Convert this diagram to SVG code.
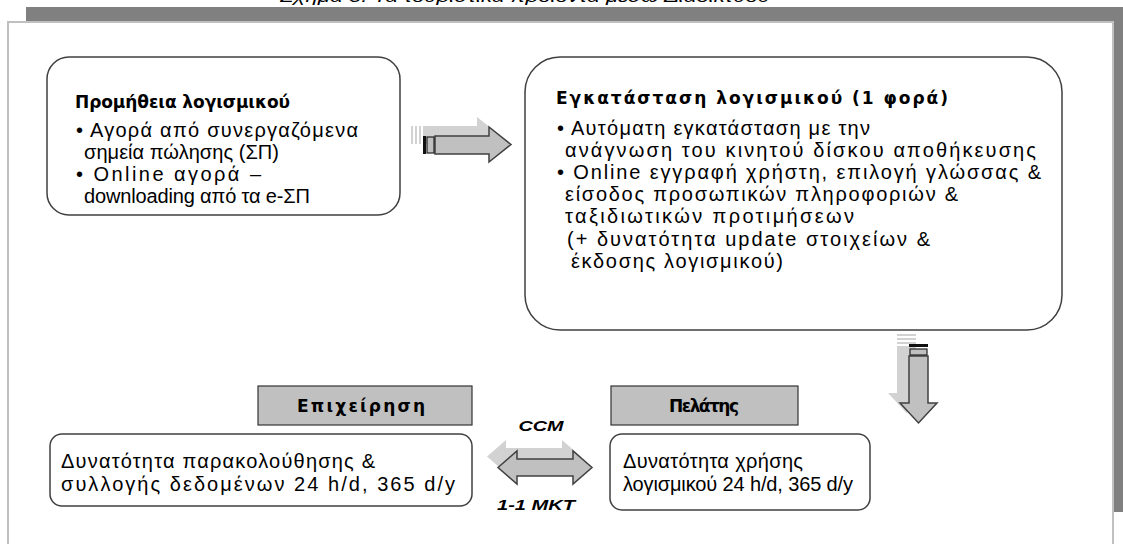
<svg xmlns="http://www.w3.org/2000/svg" width="1123" height="544" viewBox="0 0 1123 544">
<style>
.t{font-family:"Liberation Sans",Arial,sans-serif;font-size:20px;fill:#000}
.h{font-family:"DejaVu Sans",Verdana,sans-serif;font-size:17px;font-weight:bold;fill:#000}
.bi{font-family:"Liberation Sans",Arial,sans-serif;font-size:15px;font-weight:bold;font-style:italic;fill:#000}
.box{fill:#fff;stroke:#404040;stroke-width:1.5}
.hdr{fill:#c0c0c0;stroke:#333;stroke-width:1.2}
.arr{fill:#c0c0c0;stroke:#404040;stroke-width:1.5;stroke-linejoin:miter}
.sh{fill:#d2d2d2}
</style>
<rect width="1123" height="544" fill="#fff"/>
<text x="525" y="2" text-anchor="middle" font-family="Liberation Sans,Arial,sans-serif" font-size="17" font-style="italic" textLength="490" lengthAdjust="spacingAndGlyphs">Σχήμα 3: Τα τουριστικά προϊόντα μέσω Διαδικτύου</text>
<rect x="26" y="7" width="1097" height="15" fill="#808080"/>
<rect x="1113" y="7" width="10" height="505" fill="#808080"/>
<rect x="8" y="22" width="1105" height="530" fill="#fff" stroke="#c0c0c0" stroke-width="2"/>

<g id="connectors">
  <g id="arrow-right">
    <g transform="translate(-12,-10)">
      <polygon class="sh" points="435,136 489,136 489,127 511,144.5 489,162 489,154 435,154"/>
      <rect class="sh" x="423" y="136" width="2" height="18"/>
      <rect class="sh" x="427" y="136" width="2" height="18"/>
      <rect class="sh" x="431" y="136" width="2" height="18"/>
    </g>
    <polygon class="arr" points="435,136 489,136 489,127 511,144.5 489,162 489,154 435,154"/>
    <rect x="423" y="136" width="3" height="18" fill="#111"/>
    <rect x="427" y="137" width="7" height="16" fill="#c0c0c0" stroke="#222" stroke-width="1.2"/>
  </g>
  <g id="arrow-down">
    <g transform="translate(-12,-10)">
      <polygon class="sh" points="909,356 928,356 928,403 937,403 918.5,423 900,403 909,403"/>
      <rect class="sh" x="909" y="344" width="19" height="2"/>
      <rect class="sh" x="909" y="348" width="19" height="2"/>
      <rect class="sh" x="909" y="352" width="19" height="2"/>
    </g>
    <polygon class="arr" points="909,356 928,356 928,403 937,403 918.5,423 900,403 909,403"/>
    <rect x="909" y="344" width="19" height="3" fill="#111"/>
    <rect x="910" y="349" width="17" height="6" fill="#c0c0c0" stroke="#222" stroke-width="1.2"/>
  </g>
  <g id="arrow-both">
    <polygon class="sh" transform="translate(-11,-11)" points="498,467.5 517,451 517,459 573,459 573,451 592,467.5 573,484 573,476 517,476 517,484"/>
    <polygon class="arr" points="498,467.5 517,451 517,459 573,459 573,451 592,467.5 573,484 573,476 517,476 517,484"/>
  </g>
  <text class="bi" x="541" y="431" text-anchor="middle" textLength="45" lengthAdjust="spacingAndGlyphs">CCM</text>
  <text class="bi" x="536" y="510" text-anchor="middle" textLength="78" lengthAdjust="spacingAndGlyphs">1-1 MKT</text>
</g>

<g id="node-promitheia">
  <rect class="box" x="47" y="57" width="353" height="158" rx="22" ry="22"/>
  <text class="h" x="75" y="108" textLength="215" lengthAdjust="spacing">Προμήθεια λογισμικού</text>
  <text class="t" x="76" y="137" textLength="282" lengthAdjust="spacing">• Αγορά από συνεργαζόμενα</text>
  <text class="t" x="84" y="159" textLength="195" lengthAdjust="spacing">σημεία πώλησης (ΣΠ)</text>
  <text class="t" x="76" y="181" textLength="185" lengthAdjust="spacing">• Online αγορά –</text>
  <text class="t" x="84" y="203" textLength="226" lengthAdjust="spacing">downloading από τα e-ΣΠ</text>
</g>

<g id="node-egkatastasi">
  <rect class="box" x="525" y="57" width="537" height="273" rx="35" ry="35"/>
  <text class="h" x="556" y="104" font-size="18" textLength="392" lengthAdjust="spacing">Εγκατάσταση λογισμικού (1 φορά)</text>
  <text class="t" x="557" y="135" textLength="313" lengthAdjust="spacing">• Αυτόματη εγκατάσταση με την</text>
  <text class="t" x="565" y="157" textLength="471" lengthAdjust="spacing">ανάγνωση του κινητού δίσκου αποθήκευσης</text>
  <text class="t" x="557" y="179" textLength="484" lengthAdjust="spacing">• Online εγγραφή χρήστη, επιλογή γλώσσας &amp;</text>
  <text class="t" x="565" y="201" textLength="393" lengthAdjust="spacing">είσοδος προσωπικών πληροφοριών &amp;</text>
  <text class="t" x="565" y="223" textLength="289" lengthAdjust="spacing">ταξιδιωτικών προτιμήσεων</text>
  <text class="t" x="567" y="246" textLength="363" lengthAdjust="spacing">(+ δυνατότητα update στοιχείων &amp;</text>
  <text class="t" x="571" y="268" textLength="212" lengthAdjust="spacing">έκδοσης λογισμικού)</text>
</g>

<g id="node-epixeirisi">
  <rect class="hdr" x="258" y="386" width="214" height="39"/>
  <text class="h" x="297" y="412" textLength="128" lengthAdjust="spacing">Επιχείρηση</text>
  <rect class="box" x="50" y="434" width="422" height="72" rx="12" ry="12"/>
  <text class="t" x="61" y="468" textLength="314" lengthAdjust="spacing">Δυνατότητα παρακολούθησης &amp;</text>
  <text class="t" x="61" y="491" textLength="394" lengthAdjust="spacing">συλλογής δεδομένων 24 h/d, 365 d/y</text>
</g>

<g id="node-pelatis">
  <rect class="hdr" x="611" y="386" width="187" height="39"/>
  <text class="h" x="669" y="412" font-size="16" textLength="70" lengthAdjust="spacing">Πελάτης</text>
  <rect class="box" x="610" y="434" width="260" height="76" rx="12" ry="12"/>
  <text class="t" x="623" y="468" textLength="180" lengthAdjust="spacing">Δυνατότητα χρήσης</text>
  <text class="t" x="623" y="491" textLength="230" lengthAdjust="spacing">λογισμικού 24 h/d, 365 d/y</text>
</g>
</svg>
